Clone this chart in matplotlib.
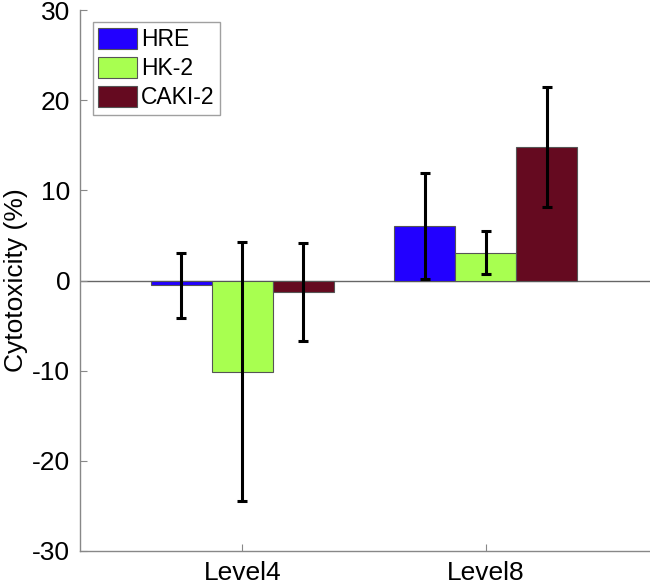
import numpy as np
import matplotlib.pyplot as plt

plt.rcParams['font.family'] = ['Liberation Sans', 'DejaVu Sans']
plt.rcParams['axes.unicode_minus'] = False

# Data
levels = ['Level4', 'Level8']
series = ['HRE', 'HK-2', 'CAKI-2']
means = {
    'HRE': [-0.55, 6.05],
    'HK-2': [-10.1, 3.1],
    'CAKI-2': [-1.3, 14.8],
}
errors = {
    'HRE': [3.6, 5.9],
    'HK-2': [14.35, 2.35],
    'CAKI-2': [5.45, 6.7],
}
colors = {'HRE': '#2200ff', 'HK-2': '#a8ff50', 'CAKI-2': '#650a20'}

fig = plt.figure(figsize=(6.5, 5.88), dpi=100, facecolor='white')
ax = fig.add_axes([80 / 650, 37 / 588, 570 / 650, 541 / 588])

x = np.arange(1, len(levels) + 1)
width = 0.25
for i, name in enumerate(series):
    pos = x + (i - 1) * width
    ax.bar(pos, means[name], width, color=colors[name], edgecolor='#555555',
           linewidth=0.8, label=name, zorder=2)
    ax.errorbar(pos, means[name], yerr=errors[name], fmt='none', ecolor='black',
                elinewidth=2.2, capsize=3.5, capthick=2.2, zorder=3)

ax.axhline(0, color='#666666', linewidth=1.0, zorder=1)

ax.set_xlim(0.333, 2.675)
ax.set_ylim(-30, 30)
ax.set_xticks(x)
ax.set_xticklabels(levels)
ax.set_yticks(range(-30, 31, 10))
ax.tick_params(direction='in', length=5, color='#888888', labelsize=19, pad=7)
ax.set_ylabel('Cytotoxicity (%)', fontsize=19, labelpad=3)

for side in ['top', 'right']:
    ax.spines[side].set_visible(False)
for side in ['left', 'bottom']:
    ax.spines[side].set_color('#888888')
    ax.spines[side].set_linewidth(1.0)

leg = ax.legend(loc='upper left', bbox_to_anchor=(0.022, 0.978), fontsize=16.5,
                frameon=True, fancybox=False, edgecolor='#888888',
                handlelength=1.7, handleheight=1.05, handletextpad=0.15,
                labelspacing=0.25, borderpad=0.25, borderaxespad=0)
leg.get_frame().set_linewidth(1.0)

plt.savefig('out.png', dpi=100, facecolor='white')
